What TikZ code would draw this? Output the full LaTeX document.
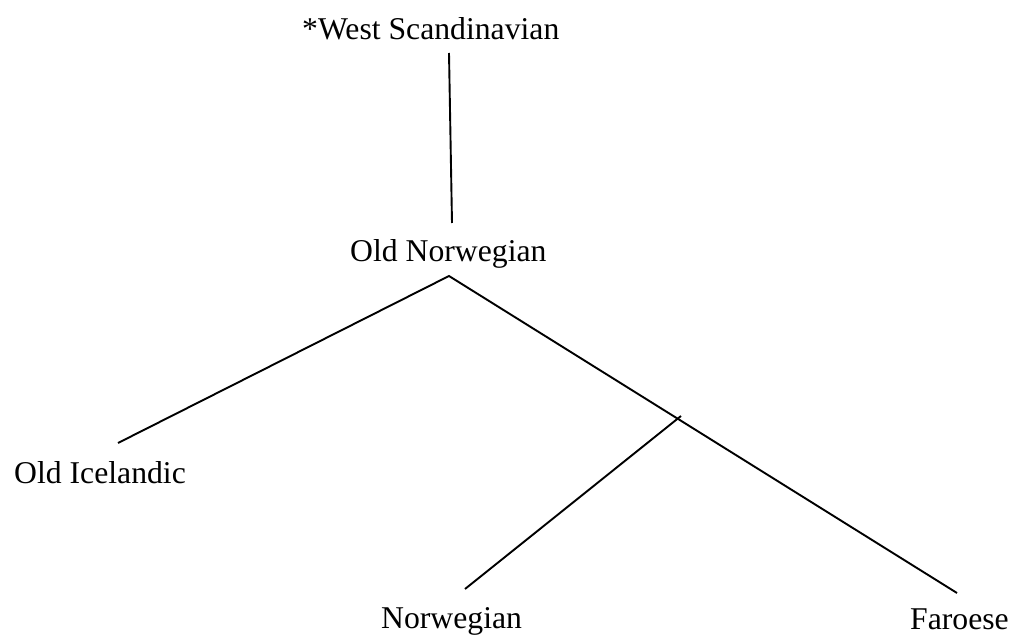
\documentclass[tikz,border=0pt]{standalone}
\usepackage{fontspec}
\setmainfont{Liberation Serif}
\begin{document}
\begin{tikzpicture}[x=1pt,y=-1pt,
  lbl/.style={inner sep=0pt,anchor=base west,font=\fontsize{31.7}{38}\selectfont},
  branch/.style={line width=1.9pt,line cap=butt}]
\useasboundingbox (0,0) rectangle (1013,639);
% labels
\node[lbl] (ws) at (302,40) {*West Scandinavian};
\node[lbl] (on) at (350,262) {Old Norwegian};
\node[lbl] (oi) at (14,483) {Old Icelandic};
\node[lbl] (nw) at (381,628) {Norwegian};
\node[lbl] (fa) at (910,629) {Faroese};
% connector ends
\coordinate (wsB) at (449,53);
\coordinate (onT) at (452,223);
\coordinate (onB) at (449,276);
\coordinate (oiT) at (118,443);
\coordinate (faT) at (957,593);
\coordinate (nwT) at (465,589);
\coordinate (cross) at (681,416);
% connectors
\draw[branch] (wsB) -- (onT);
\draw[branch] (oiT) -- (onB) -- (faT);
\draw[branch] (nwT) -- (cross);
\end{tikzpicture}
\end{document}
